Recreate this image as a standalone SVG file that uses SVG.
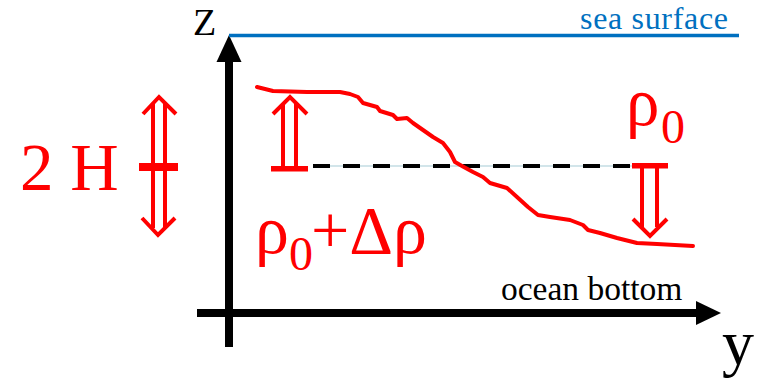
<svg xmlns="http://www.w3.org/2000/svg" width="766" height="383" viewBox="0 0 766 383">
<style>
text{font-family:"Liberation Serif","DejaVu Serif",serif}
.red{fill:#ff0000}
.rs{fill:none;stroke:#ff0000;stroke-width:4}
.ax{fill:none;stroke:#000;stroke-width:8}
</style>
<rect width="766" height="383" fill="#fff"/>
<g id="connectors">
  <line x1="229" y1="347" x2="229" y2="60" class="ax"/>
  <polygon points="229,35 216.5,62 241.5,62" fill="#000"/>
  <line x1="197" y1="313" x2="698" y2="313" class="ax"/>
  <polygon points="721,313 696,301 696,325" fill="#000"/>
  <line x1="229" y1="35.5" x2="739" y2="35.5" stroke="#0070c0" stroke-width="3.5"/>
  <line x1="313" y1="166" x2="632" y2="166" stroke="#d2e5ea" stroke-width="2"/>
  <line x1="313" y1="166" x2="632" y2="166" stroke="#000" stroke-width="4" stroke-dasharray="17 13"/>
</g>
<g id="sea-surface"><text x="580" y="29" font-family="Liberation Serif, serif" font-size="32" fill="#0070c0" textLength="148">sea surface</text></g>
<g id="z-label"><text x="193" y="35" font-family="Liberation Serif, serif" font-size="38" fill="#000" textLength="25">Z</text></g>
<g id="y-label"><text x="722" y="364" font-family="Liberation Serif, serif" font-size="64" fill="#000">y</text></g>
<g id="ocean-bottom"><text x="501" y="300" font-family="Liberation Serif, serif" font-size="33.5" fill="#000">ocean bottom</text></g>
<g id="interface">
  <polyline class="rs" stroke-linejoin="round" stroke-linecap="round" points="257,87 273,91 307,92 340,92 350,94 358,97 363,103 377,107 380,111 393,115 397,119 407,118 413,123 433,137 443,143 450,152 455,162 462,166 473,172 483,177 490,183 507,188 517,197 528,207 538,215 550,217 570,220 583,225 588,230 600,233 617,238 637,243 657,244 693,246"/>
</g>
<g id="two-h">
  <text x="20" y="190" font-family="Liberation Serif, serif" font-size="67" class="red">2 H</text>
  <path class="rs" d="M143,114 L159,97 L176,114 M153,104 V164 M165,104 V164 M153,170 V228 M165,170 V228 M142,218 L158,235 L175,218"/>
  <rect x="139" y="163" width="39" height="8" class="red"/>
</g>
<g id="arrow-up">
  <path class="rs" d="M273,114 L290,97 L307,114 M283,103 V167 M296,103 V167"/>
  <rect x="271" y="166" width="37" height="5.5" class="red"/>
</g>
<g id="arrow-down">
  <rect x="632" y="163" width="36" height="5.5" class="red"/>
  <path class="rs" d="M642,166 V227 M657,166 V227 M633,219 L650,236 L667,219"/>
</g>
<g id="rho0">
  <text font-family="Liberation Serif, serif" font-size="67" class="red"><tspan x="626" y="125">ρ</tspan><tspan x="661" y="143" font-size="48">0</tspan></text>
</g>
<g id="rho-delta">
  <text font-family="Liberation Serif, serif" font-size="68" class="red"><tspan x="255" y="253">ρ</tspan><tspan x="289" y="270" font-size="48">0</tspan><tspan x="311" y="253">+Δρ</tspan></text>
</g>
</svg>
